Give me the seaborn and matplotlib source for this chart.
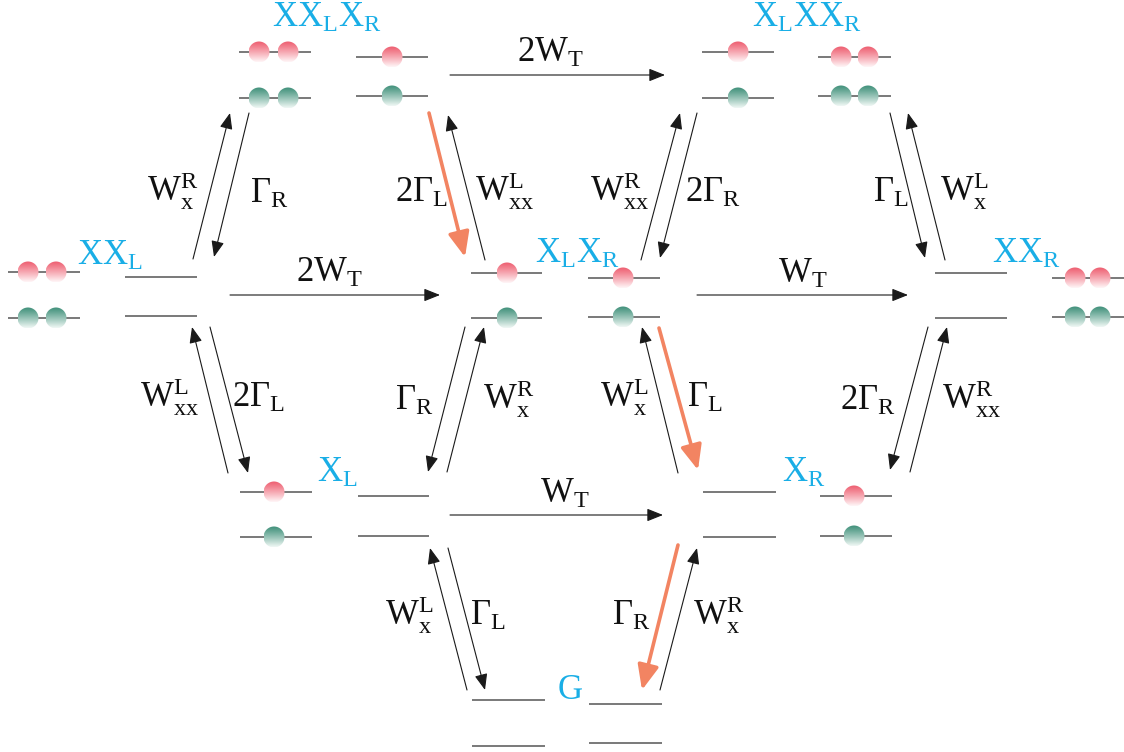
import numpy as np
import matplotlib
matplotlib.use("Agg")
import matplotlib.pyplot as plt
from matplotlib.patches import Circle, FancyArrowPatch
import seaborn as sns

sns.set_theme(style="white")
plt.rcParams['font.family'] = ['Liberation Serif', 'DejaVu Serif']
plt.rcParams['mathtext.fontset'] = 'custom'
plt.rcParams['mathtext.rm'] = 'Liberation Serif'
plt.rcParams['mathtext.it'] = 'Liberation Serif:italic'
plt.rcParams['mathtext.bf'] = 'Liberation Serif:bold'

# ---- level pairs: x0, x1, y_top, y_bottom, dot x positions ----
level_x0 = [8, 125, 239, 356, 702, 818, 935, 1052, 471, 588, 240, 358, 703, 820, 472, 589]
level_x1 = [80, 197, 311, 428, 774, 891, 1007, 1124, 542, 660, 312, 429, 776, 892, 545, 662]
level_ytop = [272, 277, 52, 57, 52, 57, 273, 278, 273, 278, 492, 496, 492, 496, 700, 704]
level_ybot = [318, 316, 98, 96, 98, 96, 318, 317, 318, 317, 537, 536, 537, 536, 746, 743]
level_dots = [[28, 56], [], [259, 288], [392], [738], [841, 868], [], [1075, 1100],
              [507], [623], [274], [], [], [854], [], []]

# ---- state labels (blue) ----
state_labels = [r"$\mathrm{XX}_\mathrm{L}\mathrm{X}_\mathrm{R}$", r"$\mathrm{X}_\mathrm{L}\mathrm{XX}_\mathrm{R}$",
                r"$\mathrm{XX}_\mathrm{L}$", r"$\mathrm{X}_\mathrm{L}\mathrm{X}_\mathrm{R}$",
                r"$\mathrm{XX}_\mathrm{R}$", r"$\mathrm{X}_\mathrm{L}$", r"$\mathrm{X}_\mathrm{R}$",
                r"$\mathrm{G}$"]
state_lx = [272, 752, 77, 535, 992, 317, 782, 557]
state_ly = [27, 27, 265, 263, 263, 482, 482, 699]

# ---- transition arrows: tail (x,y) -> head (x,y), highlighted? ----
arr_x0 = [193, 249, 429, 485, 641, 697, 890, 945,
          228, 210, 465, 447, 678, 659, 928, 910,
          467, 448, 678, 660,
          450, 230, 697, 450]
arr_y0 = [259, 113, 113, 260, 260, 113, 113, 260,
          473, 327, 327, 472, 473, 328, 327, 472,
          690, 548, 545, 690,
          75, 295, 295, 515]
arr_x1 = [230, 214, 465, 448, 680, 660, 925, 908,
          192, 248, 428, 484, 642, 698, 890, 947,
          430, 485, 642, 697,
          665, 440, 908, 663]
arr_y1 = [113, 257, 257, 115, 113, 258, 258, 113,
          327, 473, 472, 327, 327, 470, 470, 327,
          548, 690, 690, 548,
          75, 295, 295, 515]
arr_hot = [0, 0, 1, 0, 0, 0, 0, 0,
           0, 0, 0, 0, 0, 1, 0, 0,
           0, 0, 1, 0,
           0, 0, 0, 0]

# ---- rate labels (black) ----
rate_labels = [r"$\mathrm{W}_\mathrm{x}^\mathrm{R}$", r"$\mathrm{\Gamma}_\mathrm{R}$",
               r"$\mathrm{2\Gamma}_\mathrm{L}$", r"$\mathrm{W}_\mathrm{xx}^\mathrm{L}$",
               r"$\mathrm{W}_\mathrm{xx}^\mathrm{R}$", r"$\mathrm{2\Gamma}_\mathrm{R}$",
               r"$\mathrm{\Gamma}_\mathrm{L}$", r"$\mathrm{W}_\mathrm{x}^\mathrm{L}$",
               r"$\mathrm{W}_\mathrm{xx}^\mathrm{L}$", r"$\mathrm{2\Gamma}_\mathrm{L}$",
               r"$\mathrm{\Gamma}_\mathrm{R}$", r"$\mathrm{W}_\mathrm{x}^\mathrm{R}$",
               r"$\mathrm{W}_\mathrm{x}^\mathrm{L}$", r"$\mathrm{\Gamma}_\mathrm{L}$",
               r"$\mathrm{2\Gamma}_\mathrm{R}$", r"$\mathrm{W}_\mathrm{xx}^\mathrm{R}$",
               r"$\mathrm{W}_\mathrm{x}^\mathrm{L}$", r"$\mathrm{\Gamma}_\mathrm{L}$",
               r"$\mathrm{\Gamma}_\mathrm{R}$", r"$\mathrm{W}_\mathrm{x}^\mathrm{R}$",
               r"$\mathrm{2W}_\mathrm{T}$", r"$\mathrm{2W}_\mathrm{T}$",
               r"$\mathrm{W}_\mathrm{T}$", r"$\mathrm{W}_\mathrm{T}$"]
rate_lx = [147, 250, 395, 475, 590, 685, 873, 940,
           140, 232, 395, 483, 600, 687, 840, 942,
           385, 470, 612, 693,
           517, 296, 778, 540]
rate_ly = [202, 203, 202, 202, 202, 202, 202, 202,
           407, 407, 410, 410, 407, 407, 410, 410,
           625, 625, 625, 625,
           62, 282, 283, 503]

BLUE = "#19aee6"
ORANGE = "#f28462"
LINE = "#555555"

fig = plt.figure(figsize=(11.24, 7.52), dpi=100)
ax = fig.add_axes([0, 0, 1, 1])
ax.set_xlim(0, 1124)
ax.set_ylim(752, 0)
ax.axis("off")


def gradient_dot(x, y, top, bottom, r=10.5):
    t = np.linspace(0, 1, 64) ** 1.1
    top = np.array(top) / 255.0
    bottom = np.array(bottom) / 255.0
    cols = top[None, :] + (bottom - top)[None, :] * t[:, None]
    img = np.repeat(cols[:, None, :], 2, axis=1)
    im = ax.imshow(img, extent=(x - r, x + r, y + r, y - r), origin="upper",
                   aspect="auto", zorder=3, interpolation="bilinear")
    c = Circle((x, y), r, transform=ax.transData, facecolor="none", edgecolor="none")
    ax.add_patch(c)
    im.set_clip_path(c)


for x0, x1, yt, yb, dots in zip(level_x0, level_x1, level_ytop, level_ybot, level_dots):
    ax.plot([x0, x1], [yt, yt], color=LINE, lw=1.1, zorder=2, solid_capstyle="butt")
    ax.plot([x0, x1], [yb, yb], color=LINE, lw=1.1, zorder=2, solid_capstyle="butt")
    for dx in dots:
        gradient_dot(dx, yt, (238, 94, 112), (255, 246, 247))
        gradient_dot(dx, yb, (64, 144, 122), (240, 248, 245))

ax.set_xlim(0, 1124)
ax.set_ylim(752, 0)

for x0, y0, x1, y1, hot in zip(arr_x0, arr_y0, arr_x1, arr_y1, arr_hot):
    if hot:
        a = FancyArrowPatch((x0, y0), (x1, y1),
                            arrowstyle="-|>,head_length=0.75,head_width=0.32",
                            mutation_scale=20, color=ORANGE, lw=2.6,
                            shrinkA=0, shrinkB=0, zorder=4)
    else:
        a = FancyArrowPatch((x0, y0), (x1, y1),
                            arrowstyle="-|>,head_length=0.7,head_width=0.28",
                            mutation_scale=14, color="#1a1a1a", lw=0.8,
                            shrinkA=0, shrinkB=0, zorder=4)
    ax.add_patch(a)

for s, x, y in zip(state_labels, state_lx, state_ly):
    ax.text(x, y, s, color=BLUE, fontsize=25, ha="left", va="baseline", zorder=5)

for s, x, y in zip(rate_labels, rate_lx, rate_ly):
    ax.text(x, y, s, color="#111111", fontsize=25, ha="left", va="baseline", zorder=5)

fig.savefig("out.png", dpi=100, facecolor="white")
